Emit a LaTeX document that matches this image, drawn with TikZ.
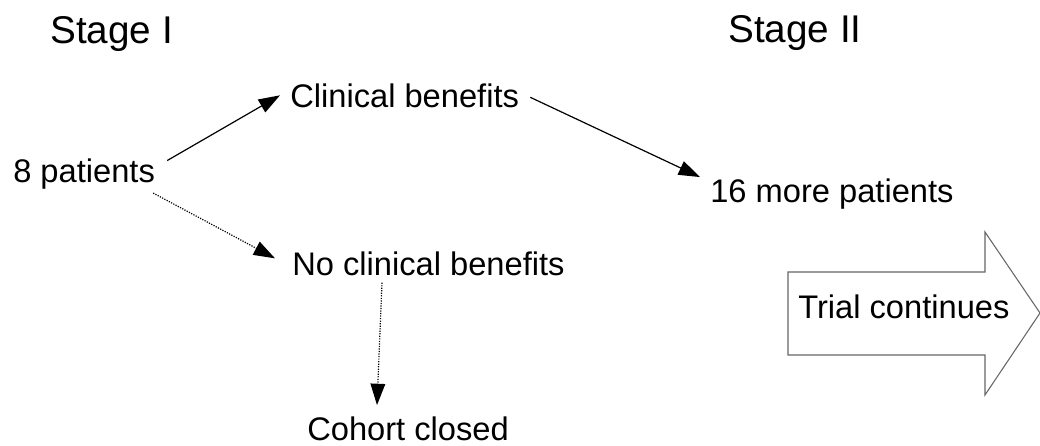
\documentclass[tikz,border=0pt]{standalone}
\usepackage{fontspec}
\setmainfont{Liberation Sans}
\usetikzlibrary{arrows.meta}

\begin{document}
\begin{tikzpicture}[x=0.75pt,y=-0.75pt]
\tikzstyle{every node}=[inner sep=0pt,anchor=base west,font=\fontsize{24.5}{29}\selectfont];
\tikzstyle{stage}=[font=\fontsize{29}{34}\selectfont];
\tikzstyle{go}=[draw,line width=0.9pt,-{Triangle[length=16pt,width=11pt]}];
\tikzstyle{stop}=[go,densely dotted];
\useasboundingbox (0,0) rectangle (1040,446);
% headings
\node[stage] (s1) at (50,43) {Stage I};
\node[stage] (s2) at (728,42) {Stage II};
% stage I
\node (pat8) at (13,182) {8 patients};
\node (ben) at (290,107) {Clinical benefits};
\node (noben) at (292,275) {No clinical benefits};
\node (closed) at (307,440) {Cohort closed};
% stage II
\node (pat16) at (710,202) {16 more patients};
\draw[gray!80!black,line width=0.8pt] (788,272) -- (985,272) -- (985,232) -- (1040,313)
	-- (985,395) -- (985,355) -- (788,355) -- cycle;
\node (trial) at (798,318) {Trial continues};
% arrows
\draw[go] ([shift={(12,-13)}]pat8.east) -- ([shift={(-10,0)}]ben.west);
\draw[stop] ([shift={(-2,4)}]pat8.south east) -- ([shift={(-17,-5)}]noben.west);
\draw[go] ([shift={(11,2)}]ben.east) -- ([shift={(-10,-1)}]pat16.north west);
\draw[stop] ([shift={(90,7)}]noben.south west) -- ([shift={(70,-11)}]closed.north west);
\end{tikzpicture}
\end{document}
